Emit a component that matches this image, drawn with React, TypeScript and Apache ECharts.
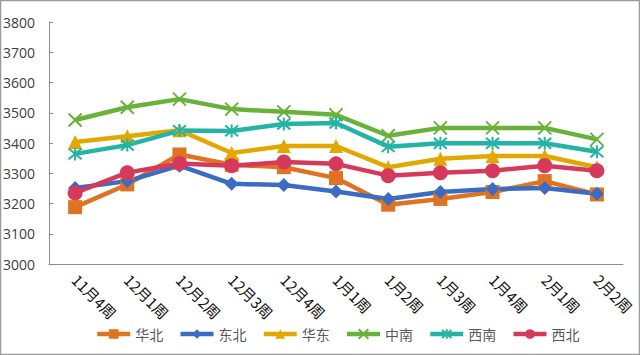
import React, { useEffect, useRef } from "react";
import * as echarts from "echarts";

const categories = ["11月4周", "12月1周", "12月2周", "12月3周", "12月4周", "1月1周", "1月2周", "1月3周", "1月4周", "2月1周", "2月2周"];
const huabei = [3188, 3263, 3362, 3328, 3320, 3284, 3196, 3215, 3238, 3274, 3230];
const dongbei = [3251, 3274, 3325, 3265, 3261, 3240, 3215, 3238, 3248, 3251, 3232];
const huadong = [3403, 3422, 3442, 3367, 3390, 3390, 3320, 3348, 3357, 3357, 3320];
const zhongnan = [3476, 3518, 3545, 3512, 3503, 3493, 3424, 3450, 3450, 3450, 3412];
const xinan = [3364, 3393, 3441, 3440, 3463, 3466, 3388, 3399, 3399, 3399, 3371];
const xibei = [3235, 3302, 3332, 3325, 3337, 3331, 3292, 3302, 3308, 3325, 3308];
const yTicks = { min: 3000, max: 3800, interval: 100 };

const FONT = "'Noto Sans CJK SC', 'Noto Sans', sans-serif";

export default function App() {
  const ref = useRef<HTMLDivElement>(null);
  useEffect(() => {
    if (!ref.current) return;
    const chart = echarts.init(ref.current, undefined, { renderer: "svg" });
    const mk = (name: string, data: number[], color: string, symbol: string, size: number, stroke?: boolean) => ({
      name,
      type: "line",
      data,
      symbol,
      symbolSize: size,
      lineStyle: { color, width: 4.5 },
      itemStyle: stroke
        ? { color, borderColor: color, borderWidth: 2 }
        : { color, borderWidth: 0 },
      emphasis: { disabled: true },
    });
    chart.setOption({
      animation: false,
      textStyle: { fontFamily: FONT },
      graphic: [
        {
          type: "rect",
          shape: { x: 0.5, y: 0.5, width: 639, height: 354 },
          style: { fill: "none", stroke: "#9a9a9a", lineWidth: 1.5 },
          silent: true,
        },
      ],
      grid: { left: 49, right: 17, top: 22, bottom: 91 },
      legend: {
        left: 90,
        top: 322,
        itemWidth: 33,
        itemHeight: 12,
        itemGap: 15,
        lineStyle: { width: 4.5 },
        textStyle: { fontSize: 14, color: "#595959", fontFamily: FONT },
        data: ["华北", "东北", "华东", "中南", "西南", "西北"],
      },
      xAxis: {
        type: "category",
        data: categories,
        boundaryGap: true,
        axisLine: { lineStyle: { color: "#8c8c8c", width: 1 } },
        axisTick: { inside: true, length: 4, lineStyle: { color: "#8c8c8c" } },
        axisLabel: { rotate: -45, fontSize: 15, color: "#111", margin: 13, fontFamily: FONT, interval: 0 },
      },
      yAxis: {
        type: "value",
        min: yTicks.min,
        max: yTicks.max,
        interval: yTicks.interval,
        splitLine: { show: false },
        axisLine: { show: true, lineStyle: { color: "#8c8c8c", width: 1 } },
        axisTick: { show: true, inside: true, length: 4, lineStyle: { color: "#8c8c8c" } },
        axisLabel: {
          fontSize: 14,
          color: "#404040",
          margin: 14,
          fontFamily: "'Open Sans', sans-serif",
          formatter: (v: number) => String(v),
        },
      },
      series: [
        mk("华北", huabei, "#E07322", "rect", 14),
        mk("东北", dongbei, "#3B6CC4", "diamond", 14),
        mk("华东", huadong, "#E2A800", "triangle", 14),
        mk("中南", zhongnan, "#68B23A", "path://M0,0L10,10M10,0L0,10", 13, true),
        mk("西南", xinan, "#25B3A6", "path://M0,0L10,10M10,0L0,10M5,-1L5,11", 13, true),
        mk("西北", xibei, "#D6395A", "circle", 15),
      ],
    });
    return () => chart.dispose();
  }, []);
  return (
    <div
      ref={ref}
      style={{ position: "fixed", left: 0, top: 0, width: 640, height: 355, background: "#fff" }}
    />
  );
}
